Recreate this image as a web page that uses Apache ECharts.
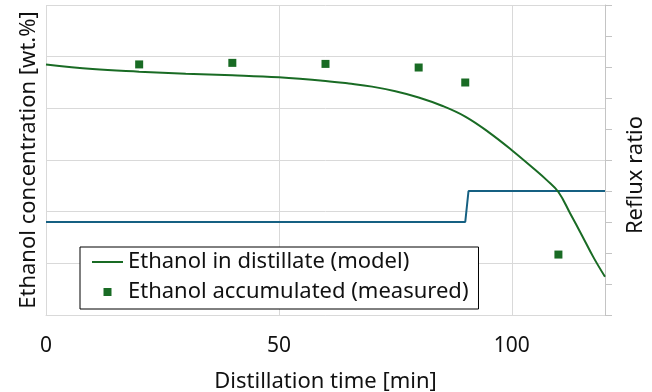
<!DOCTYPE html>
<html>
<head>
<meta charset="utf-8">
<script src="https://cdn.jsdelivr.net/npm/echarts@6/dist/echarts.min.js"></script>
<style>
  html, body { margin: 0; padding: 0; background: #fff; }
  #chart { width: 652px; height: 392px; }
</style>
</head>
<body>
<div id="chart"></div>
<script>
// model curve (left axis)
const modelTime = [0, 10, 20, 30, 40, 50, 60, 65, 70, 75, 80, 85, 90, 95, 100, 105, 107.5, 110, 112.5, 115, 117.5, 120]
const modelEthanol = [4.85, 4.76, 4.71, 4.67, 4.64, 4.60, 4.53, 4.48, 4.42, 4.33, 4.21, 4.05, 3.84, 3.54, 3.19, 2.81, 2.61, 2.38, 1.97, 1.55, 1.12, 0.74]

// measured points (left axis)
const measTime = [20, 40, 60, 80, 90, 110]
const measEthanol = [4.85, 4.88, 4.86, 4.79, 4.50, 1.17]

// reflux ratio step (right axis)
const refluxTime = [0, 90, 90.7, 120]
const refluxRatio = [3, 3, 4, 4]

const GREEN = '#196B24'
const BLUE = '#156082'
const GRID = '#d9d9d9'
const FONT = '"Noto Sans", "Open Sans", sans-serif'

const zip = (xs, ys) => xs.map((x, i) => [x, ys[i]])

const chart = echarts.init(document.getElementById('chart'))
chart.setOption({
  animation: false,
  textStyle: { fontFamily: FONT, color: '#111' },
  grid: { left: 46, right: 47, top: 5, bottom: 77, outerBoundsMode: 'none' },
  legend: {
    orient: 'vertical',
    left: 80,
    top: 247,
    padding: [4, 10, 6, 12],
    itemGap: 8,
    itemWidth: 31,
    itemHeight: 8,
    symbolKeepAspect: true,
    borderColor: '#000',
    borderWidth: 1,
    backgroundColor: '#fff',
    textStyle: { fontFamily: FONT, fontSize: 22, color: '#111', lineHeight: 20 },
    data: [
      { name: 'Ethanol in distillate (model)', icon: 'path://M0,0h31v2h-31z' },
      { name: 'Ethanol accumulated (measured)', icon: 'path://M0,0h8v8h-8z' }
    ]
  },
  xAxis: {
    type: 'value',
    min: 0,
    max: 120,
    interval: 50,
    name: 'Distillation time [min]',
    nameLocation: 'middle',
    nameGap: 56,
    nameTextStyle: { fontSize: 22, color: '#111' },
    axisLine: { show: true, lineStyle: { color: GRID } },
    axisTick: { show: false },
    axisLabel: { fontSize: 21, color: '#111', margin: 21, showMaxLabel: false },
    splitLine: { show: true, lineStyle: { color: GRID } }
  },
  yAxis: [
    {
      type: 'value',
      min: 0,
      max: 6,
      interval: 1,
      name: 'Ethanol concentration [wt.%]',
      nameLocation: 'middle',
      nameGap: 6,
      nameTextStyle: { fontSize: 22, color: '#111' },
      axisLine: { show: false },
      axisTick: { show: false },
      axisLabel: { show: false },
      splitLine: { lineStyle: { color: GRID } }
    },
    {
      type: 'value',
      position: 'right',
      min: 0,
      max: 10,
      interval: 1,
      name: 'Reflux ratio',
      nameLocation: 'middle',
      nameRotate: 90,
      nameGap: 20,
      nameTextStyle: { fontSize: 22, color: '#111', padding: [0, 30, 0, 0] },
      axisLine: { show: true, lineStyle: { color: '#c4c4c4' } },
      axisTick: { show: true, length: 7, lineStyle: { color: '#c4c4c4' } },
      axisLabel: { show: false },
      splitLine: { show: false }
    }
  ],
  series: [
    {
      name: 'Reflux ratio',
      type: 'line',
      yAxisIndex: 1,
      data: zip(refluxTime, refluxRatio),
      symbol: 'none',
      lineStyle: { color: BLUE, width: 2 },
      itemStyle: { color: BLUE }
    },
    {
      name: 'Ethanol in distillate (model)',
      type: 'line',
      data: zip(modelTime, modelEthanol),
      smooth: 0.4,
      symbol: 'none',
      lineStyle: { color: GREEN, width: 2 },
      itemStyle: { color: GREEN }
    },
    {
      name: 'Ethanol accumulated (measured)',
      type: 'scatter',
      data: zip(measTime, measEthanol),
      symbol: 'rect',
      symbolSize: 8,
      itemStyle: { color: GREEN, opacity: 1 }
    }
  ]
})
</script>
</body>
</html>
